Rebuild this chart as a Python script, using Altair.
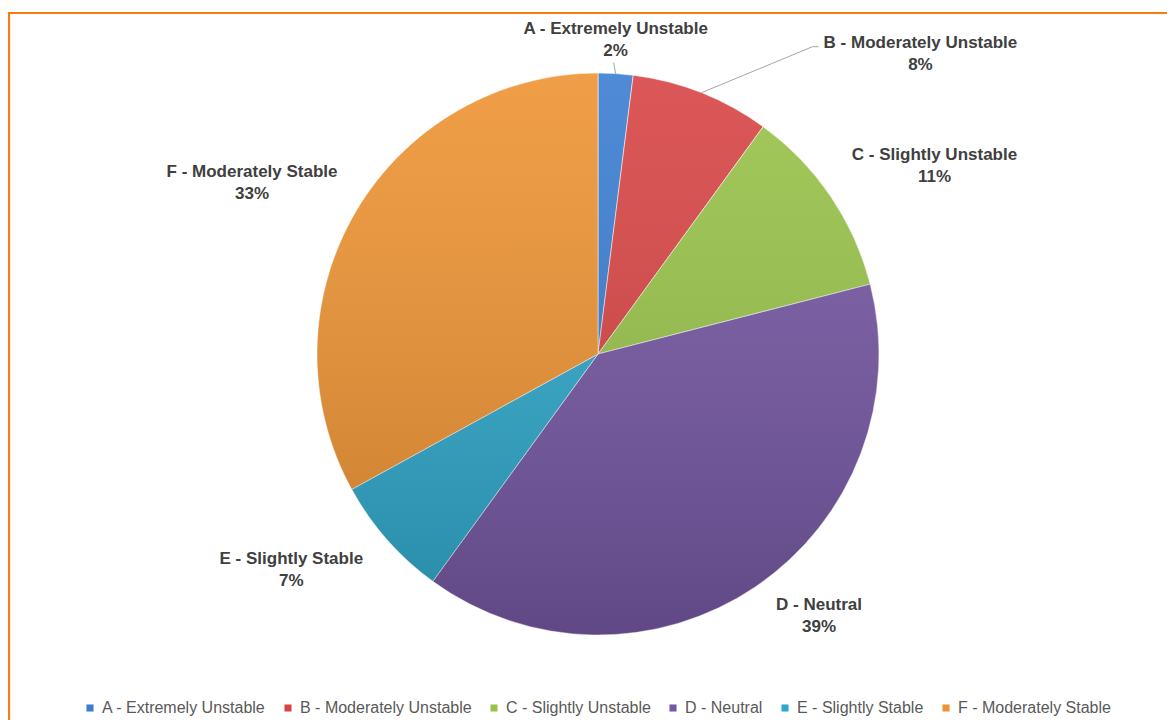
import altair as alt
import pandas as pd

categories = ["A - Extremely Unstable", "B - Moderately Unstable", "C - Slightly Unstable",
              "D - Neutral", "E - Slightly Stable", "F - Moderately Stable"]
shares = [2, 8, 11, 39, 7, 33]
colors = ["#3A7DD1", "#D84444", "#98C349", "#7557A3", "#2FA8CB", "#EE9332"]

df = pd.DataFrame({"cat": categories, "value": shares, "order": list(range(len(shares)))})

W, H = 1159, 712
CX, CY, R = 590, 346, 281
FONT = "Liberation Sans"
LEADER_CAT = "B - Moderately Unstable"

base = alt.Chart(df).transform_window(
    cum="sum(value)", sort=[alt.SortField("order")], frame=[None, 0]
).transform_joinaggregate(total="sum(value)").transform_calculate(
    a="2*PI*(datum.cum - datum.value/2)/datum.total",
    pct="format(datum.value/datum.total, '.0%')",
).transform_calculate(
    label="datum.cat + '\\n' + datum.pct",
    hw="length(datum.cat)*4.1",
    sx="(sin(datum.a) < 0 ? -1 : 1) * clamp(2.2*abs(sin(datum.a)) - 0.2, 0, 1)",
    sy="clamp(1.8*cos(datum.a), -1, 1)",
    ex=f"{CX} + {R}*sin(datum.a)",
    ey=f"{CY} - {R}*cos(datum.a)",
).transform_calculate(
    lx=f"datum.cat == '{LEADER_CAT}' ? datum.ex + 219 : datum.ex + datum.sx*(18 + datum.hw)",
    ly=f"datum.cat == '{LEADER_CAT}' ? datum.ey - 50 : datum.ey - datum.sy*(8 + 22) - 11 - (datum.value < 4 ? 4 : 0)",
    kx=f"datum.cat == '{LEADER_CAT}' ? datum.ex + 111 : datum.lx - 2",
    ky=f"datum.cat == '{LEADER_CAT}' ? datum.ey - 46 : datum.ly + 34",
)

slices = base.mark_arc(radius=R, stroke="white", strokeWidth=1, strokeOpacity=0.55).encode(
    theta=alt.Theta("value:Q", stack=True),
    order=alt.Order("order:Q"),
    x=alt.value(CX), y=alt.value(CY),
    color=alt.Color("cat:N", scale=alt.Scale(domain=categories, range=colors),
                    legend=alt.Legend(orient="none", legendX=74, legendY=692, direction="horizontal",
                                      title=None, symbolType="square", symbolSize=50,
                                      symbolStrokeWidth=0, labelFont=FONT, labelFontSize=16,
                                      labelColor="#595959", columnPadding=14, labelOffset=4,
                                      labelLimit=400)),
)

shade = alt.Chart(df).transform_aggregate(total="sum(value)").mark_arc(
    radius=R,
    fill=alt.LinearGradient(gradient="linear", x1=0, y1=0, x2=0, y2=1,
                            stops=[alt.GradientStop(color="rgba(255,255,255,0.10)", offset=0),
                                   alt.GradientStop(color="rgba(0,0,0,0.18)", offset=1)]),
).encode(theta=alt.Theta("total:Q"), x=alt.value(CX), y=alt.value(CY))

leaders = base.transform_filter(
    f"datum.cat == '{LEADER_CAT}' || datum.value < 4"
).mark_rule(color="#A6A6A6", strokeWidth=1).encode(
    x=alt.X("ex:Q", scale=None), y=alt.Y("ey:Q", scale=None),
    x2="kx:Q", y2="ky:Q",
)
leader_tail = base.transform_filter(f"datum.cat == '{LEADER_CAT}'").transform_calculate(
    kx2="datum.kx + 6"
).mark_rule(color="#A6A6A6", strokeWidth=1).encode(
    x=alt.X("kx:Q", scale=None), y=alt.Y("ky:Q", scale=None), x2="kx2:Q",
)

labels = base.mark_text(font=FONT, fontSize=17, fontWeight="bold", color="#404040",
                        lineBreak="\n", lineHeight=22, align="center", baseline="middle").encode(
    x=alt.X("lx:Q", scale=None), y=alt.Y("ly:Q", scale=None), text="label:N",
)

frame_top = alt.Chart(df).transform_aggregate(n="count()").mark_rule(
    color="#F87A12", strokeWidth=2.2).encode(x=alt.value(0), x2=alt.value(W), y=alt.value(5))
frame_left = alt.Chart(df).transform_aggregate(n="count()").mark_rule(
    color="#F87A12", strokeWidth=2.2).encode(x=alt.value(1), y=alt.value(4), y2=alt.value(H))

chart = alt.layer(slices, shade, leaders, leader_tail, labels, frame_top, frame_left).resolve_scale(
    theta="independent"
).properties(
    width=W, height=H, padding=0, autosize=alt.AutoSizeParams(type="none"), background="white"
).configure_view(stroke=None)

chart.save("out.html", embed_options={"renderer": "svg", "actions": False})
